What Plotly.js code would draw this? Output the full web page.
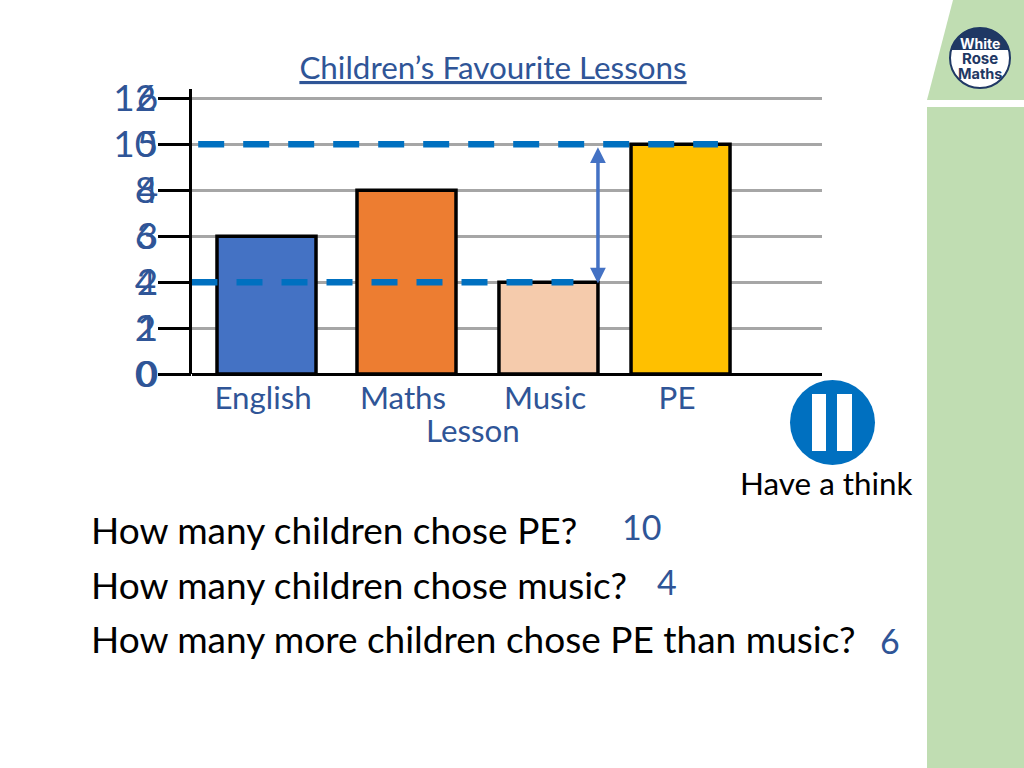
<!DOCTYPE html>
<html>
<head>
<meta charset="utf-8">
<script src="https://cdn.plot.ly/plotly-3.0.1.min.js"></script>
<style>html,body{margin:0;padding:0;background:#fff;overflow:hidden}#chart{width:1024px;height:768px}</style>
</head>
<body>
<div id="chart"></div>
<script>
const categories = ['English', 'Maths', 'Music', 'PE'];
const childrenValues = [6, 8, 4, 10];
const barColours = ['#4472C4', '#ED7D31', '#F5CBAC', '#FFC000'];
const barCentres = [0, 1.414, 2.848, 4.182];
const primaryTicks = [0, 2, 4, 6, 8, 10, 12];
const secondaryTicks = [0, 1, 2, 3, 4, 5, 6];
const peLineX = [-0.69, 4.56];
const peLineY = [10, 10];
const musicLineX = [-0.7576, 3.10];
const musicLineY = [4, 4];
const questions = ['How many children chose PE?', 'How many children chose music?', 'How many more children chose PE than music?'];
const answers = ['10', '4', '6'];

const W = 1024, H = 768;
const px = x => x / W;
const py = y => 1 - y / H;
const BLUE = '#2F5597', DASH = '#0070C0', GREEN = '#C0DDB2', NAVY = '#1F3864';
const FONT = 'Lato, "Open Sans", sans-serif';
const LOGO = 'Inter, sans-serif';

const traces = [
  { type: 'bar', x: barCentres, y: childrenValues, width: 1, xaxis: 'x', yaxis: 'y',
    marker: { color: barColours, line: { color: '#000', width: 3.5 } }, showlegend: false, hoverinfo: 'skip' },
  { type: 'scatter', mode: 'lines', x: peLineX, y: peLineY, xaxis: 'x', yaxis: 'y',
    line: { color: DASH, width: 6.5, dash: '26px,19px' }, showlegend: false, hoverinfo: 'skip' },
  { type: 'scatter', mode: 'lines', x: musicLineX, y: musicLineY, xaxis: 'x', yaxis: 'y',
    line: { color: DASH, width: 6.5, dash: '26px,19px' }, showlegend: false, hoverinfo: 'skip' },
  { type: 'scatter', mode: 'lines', x: [0, 0], y: [0, 0], xaxis: 'x', yaxis: 'y2',
    line: { width: 0 }, showlegend: false, hoverinfo: 'skip' }
];

const note = (x, y, text, size, color, anchor, family) => ({
  xref: 'paper', yref: 'paper', x: px(x), y: py(y), text: text, showarrow: false,
  xanchor: anchor || 'center', yanchor: 'middle',
  font: { family: family || FONT, size: size, color: color }
});

const annotations = [
  { xref: 'x', yref: 'y', x: 3.348, y: 9.87, axref: 'x', ayref: 'y', ax: 3.348, ay: 3.87,
    text: '', showarrow: true, arrowside: 'end+start', arrowhead: 2, arrowsize: 0.9, arrowwidth: 3.5,
    arrowcolor: '#4472C4', standoff: 0, startstandoff: 0 },
  note(473, 430, 'Lesson', 31.3, BLUE),
  note(826, 483, 'Have a think', 31.4, '#000'),
  note(89, 529, questions[0], 37, '#000', 'left'),
  note(89, 584, questions[1], 37, '#000', 'left'),
  note(89, 638, questions[2], 37, '#000', 'left'),
  note(641, 526, answers[0], 34, BLUE),
  note(667, 581, answers[1], 34, BLUE),
  note(890, 640, answers[2], 34, BLUE),
  note(980, 43, '<b>White</b>', 14, '#fff', 'center', LOGO),
  note(980, 58, '<b>Rose</b>', 15, NAVY, 'center', LOGO),
  note(980, 73, '<b>Maths</b>', 14.5, NAVY, 'center', LOGO)
];

const rect = (x0, y0, x1, y1, color, layer) => ({ type: 'rect', xref: 'paper', yref: 'paper',
  x0: px(x0), x1: px(x1), y0: py(y0), y1: py(y1), fillcolor: color, line: { width: 0 }, layer: layer || 'above' });
const circle = (cx, cy, r, fill, lineColor, lw) => ({ type: 'circle', xref: 'paper', yref: 'paper',
  x0: px(cx - r), x1: px(cx + r), y0: py(cy - r), y1: py(cy + r), fillcolor: fill,
  line: { color: lineColor || fill, width: lw || 0 }, layer: 'above' });

const shapes = [
  rect(927, 107, 1024, 768, GREEN, 'below'),
  { type: 'path', xref: 'paper', yref: 'paper', layer: 'below', fillcolor: GREEN, line: { width: 0 },
    path: `M ${px(953)} ${py(0)} L ${px(927)} ${py(100)} L ${px(1024)} ${py(100)} L ${px(1024)} ${py(0)} Z` },
  circle(832.5, 422.5, 42.5, '#0070C0'),
  rect(812, 394, 826, 451, '#fff'),
  rect(837, 394, 852, 451, '#fff'),
  circle(980, 58, 30, '#fff', NAVY, 2),
  { type: 'path', xref: 'paper', yref: 'paper', layer: 'above', fillcolor: NAVY, line: { width: 0 },
    path: `M ${px(951)} ${py(50)} Q ${px(958)} ${py(28)} ${px(980)} ${py(28)} Q ${px(1002)} ${py(28)} ${px(1009)} ${py(50)} Z` }
];

const layout = {
  width: W, height: H,
  margin: { l: 0, r: 0, t: 0, b: 0 },
  paper_bgcolor: '#fff', plot_bgcolor: 'rgba(0,0,0,0)',
  font: { family: FONT },
  title: { text: '<u>Children’s Favourite Lessons</u>', x: px(493), xanchor: 'center', y: py(68), yanchor: 'middle',
    font: { family: FONT, size: 31.4, color: BLUE } },
  bargap: 0,
  xaxis: {
    domain: [px(191.5), px(822)], range: [-0.7576, 5.611], anchor: 'y',
    tickmode: 'array', tickvals: barCentres.map(c => c - 0.035), ticktext: categories,
    ticks: '', showgrid: false, zeroline: false, showline: false, ticklabelstandoff: 3,
    tickfont: { family: FONT, size: 31.3, color: BLUE }
  },
  yaxis: {
    domain: [py(374), py(89)], range: [0, 12.41], anchor: 'x',
    tickmode: 'array', tickvals: primaryTicks, ticks: 'outside', ticklen: 31, tickwidth: 3, tickcolor: '#000',
    showgrid: true, gridcolor: '#A6A6A6', gridwidth: 3, zeroline: true, zerolinecolor: '#000', zerolinewidth: 3,
    showline: true, linecolor: '#000', linewidth: 3, ticklabelstandoff: -6,
    tickfont: { family: FONT, size: 37, color: BLUE }
  },
  yaxis2: {
    domain: [py(374), py(89)], range: [0, 6.205], overlaying: 'y', side: 'left', anchor: 'x',
    tickmode: 'array', tickvals: secondaryTicks, ticks: 'outside', ticklen: 31, tickwidth: 3, tickcolor: '#000',
    showgrid: false, zeroline: false, showline: false, ticklabelstandoff: -6,
    tickfont: { family: FONT, size: 37, color: BLUE }
  },
  annotations: annotations,
  shapes: shapes,
  showlegend: false
};

Plotly.newPlot('chart', traces, layout, { displayModeBar: false, staticPlot: true });
</script>
</body>
</html>
